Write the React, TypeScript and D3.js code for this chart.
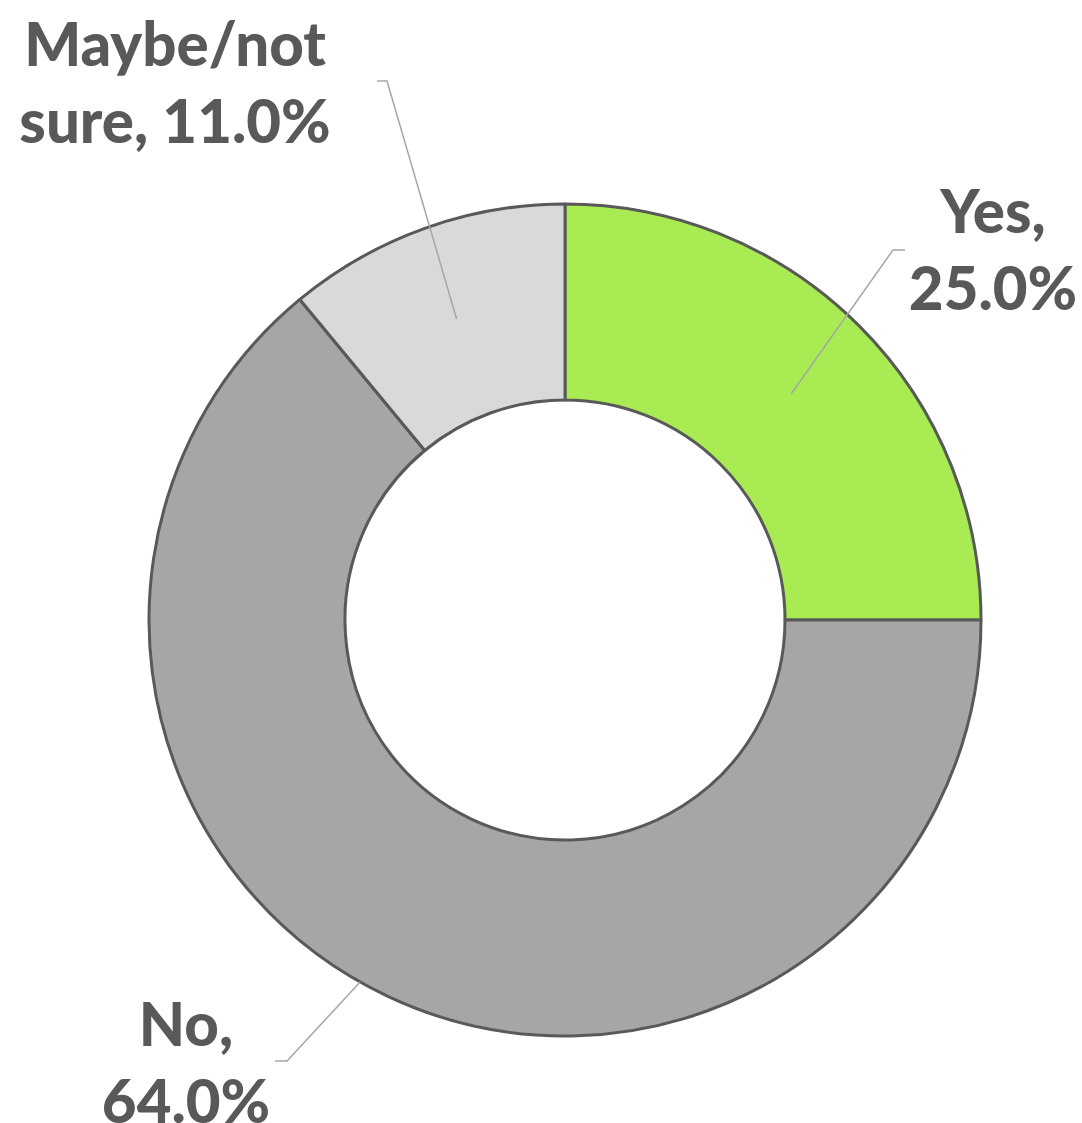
import React from "react";
import * as d3 from "d3";

const categories = ["Yes", "No", "Maybe/not sure"];
const values = [25.0, 64.0, 11.0];
const labelLines = [
  ["Yes,", "25.0%"],
  ["No,", "64.0%"],
  ["Maybe/not", "sure, 11.0%"],
];
const colors = ["#a9eb52", "#a6a6a6", "#d9d9d9"];

const W = 1082;
const H = 1123;
const CX = 565;
const CY = 620;
const R_OUT = 416;
const R_IN = 220;

const labelLayout = [
  { x: 993, y: 233, lx: 905, ly: 250, ex: 893, endR: 320, endAngleDeg: null as number | null },
  { x: 186, y: 1046, lx: 275, ly: 1061, ex: 287, endR: 416, endAngleDeg: 209.5 },
  { x: 175, y: 66, lx: 377, ly: 81, ex: 387, endR: 320, endAngleDeg: null as number | null },
];

export default function App() {
  const pie = d3
    .pie<number>()
    .sort(null)
    .value((d) => d)
    .startAngle(0)
    .endAngle(2 * Math.PI);
  const arcs = pie(values);
  const arc = d3.arc<d3.PieArcDatum<number>>().innerRadius(R_IN).outerRadius(R_OUT);

  return (
    <div style={{ position: "absolute", left: 0, top: 0 }}>
      <svg width={W} height={H} style={{ display: "block" }}>
        <rect width={W} height={H} fill="#ffffff" />
        <g transform={`translate(${CX},${CY})`}>
          {arcs.map((a, i) => (
            <path key={categories[i]} d={arc(a) || ""} fill={colors[i]} stroke="#595959" strokeWidth={3} strokeLinejoin="round" />
          ))}
        </g>
        {arcs.map((a, i) => {
          const L = labelLayout[i];
          const ang = L.endAngleDeg !== null ? (L.endAngleDeg * Math.PI) / 180 : (a.startAngle + a.endAngle) / 2;
          const px = CX + L.endR * Math.sin(ang);
          const py = CY - L.endR * Math.cos(ang);
          return (
            <polyline
              key={"l" + i}
              points={`${L.lx},${L.ly} ${L.ex},${L.ly} ${px},${py}`}
              fill="none"
              stroke="#a6a6a6"
              strokeWidth={1.5}
            />
          );
        })}
        {labelLines.map((lines, i) => {
          const L = labelLayout[i];
          return (
            <text
              key={"t" + i}
              x={L.x}
              y={L.y}
              textAnchor="middle"
              fontFamily="Lato, 'Open Sans', sans-serif"
              fontWeight={900}
              fontSize={60}
              fill="#595959"
            >
              {lines.map((s, j) => (
                <tspan key={j} x={L.x} dy={j === 0 ? 0 : 77}>
                  {s}
                </tspan>
              ))}
            </text>
          );
        })}
      </svg>
    </div>
  );
}
